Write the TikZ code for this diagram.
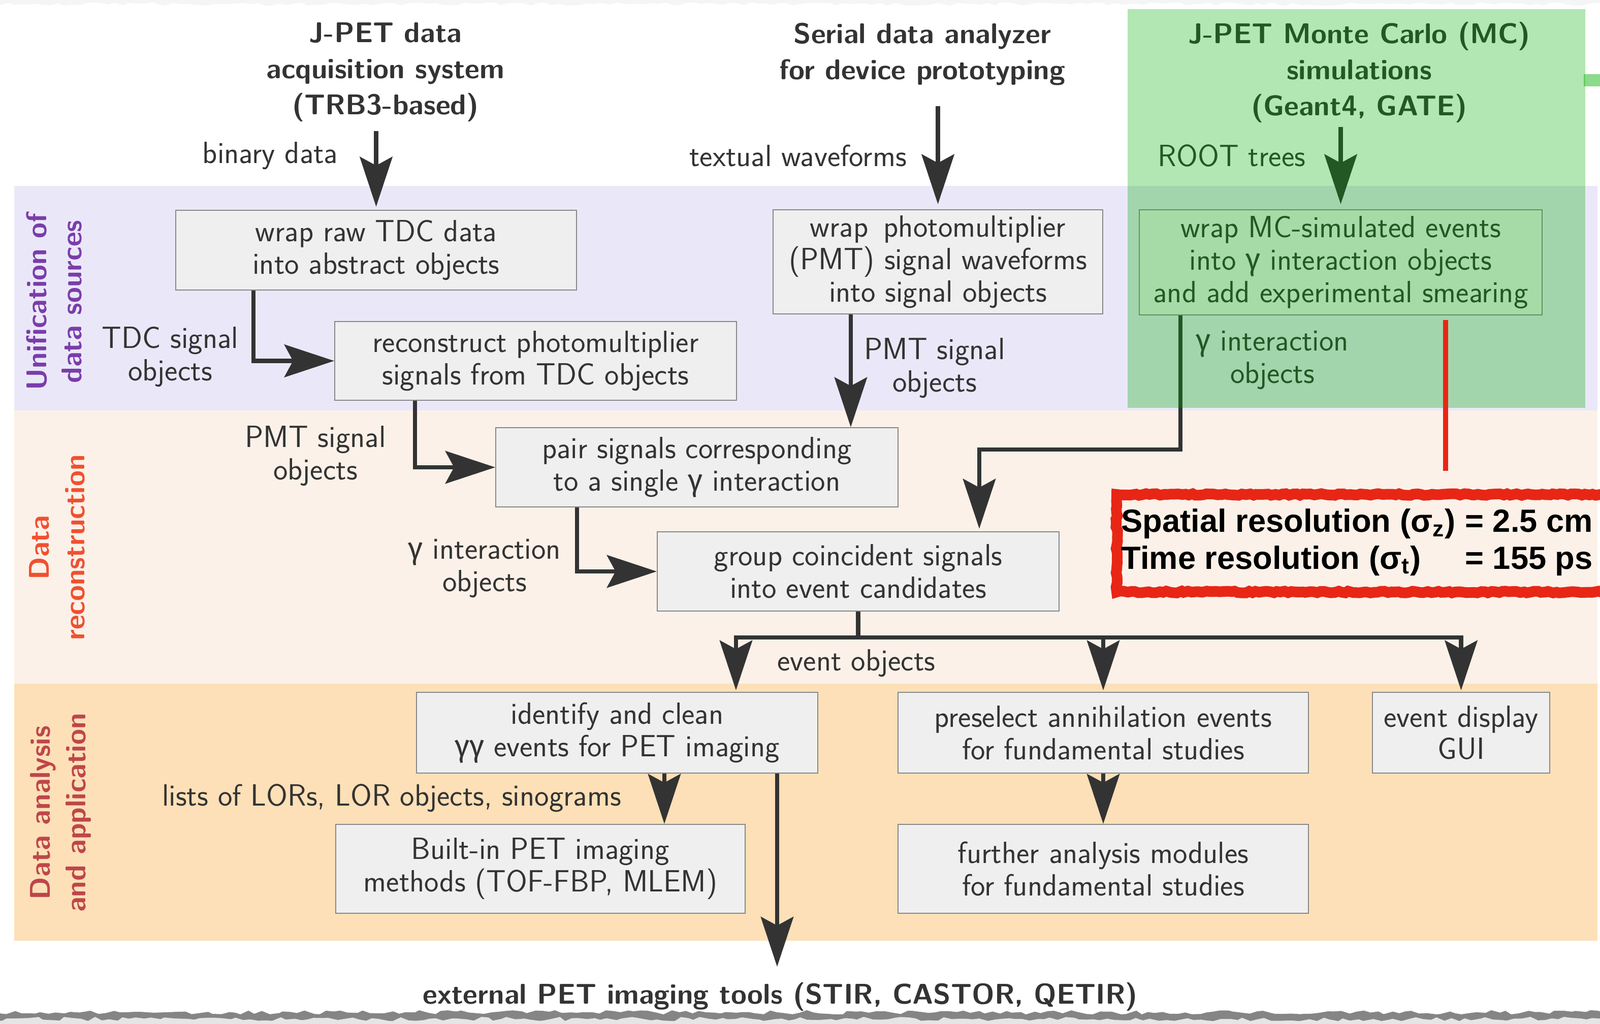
\documentclass[tikz,border=0pt]{standalone}
\usepackage{fontspec}
\usepackage{tikz}
\usetikzlibrary{calc,arrows.meta,decorations.pathmorphing}
\renewcommand{\familydefault}{\sfdefault}
\newfontfamily\grkfont{Fira Sans}
\newfontfamily\arialfont{Liberation Sans}
\newcommand{\gam}{{\grkfont γ}}

\definecolor{bandBlue}{RGB}{234,232,248}
\definecolor{bandPeach}{RGB}{251,241,232}
\definecolor{bandOrange}{RGB}{253,224,183}
\definecolor{boxFill}{RGB}{239,239,239}
\definecolor{boxBorder}{RGB}{135,135,135}
\definecolor{txt}{RGB}{51,51,51}
\definecolor{mcGreen}{RGB}{0,172,0}
\definecolor{redMark}{RGB}{232,38,22}
\definecolor{sideViolet}{RGB}{122,61,170}
\definecolor{sideRed}{RGB}{240,80,48}
\definecolor{sideRose}{RGB}{190,70,75}

\tikzset{
	box/.style={draw=boxBorder, fill=boxFill, line width=0.6pt, text=txt, align=center, inner sep=0pt, font=\fontsize{17.2}{18.2}\selectfont},
	lbl/.style={text=txt, align=center, inner sep=0pt, font=\fontsize{17.2}{18.2}\selectfont},
	head/.style={text=txt, align=center, inner sep=0pt, font=\fontsize{16}{20.2}\selectfont\bfseries},
	side/.style={rotate=90, align=center, inner sep=0pt, font=\fontsize{16}{19.9}\selectfont\bfseries},
	arr/.style={draw=txt, line width=2.5pt, -{Stealth[length=0.98cm, width=0.64cm, inset=0.17cm]}},
	rough/.style={decorate, decoration={random steps, segment length=2pt, amplitude=0.5pt}},
}

\begin{document}
\begin{tikzpicture}
		%%%%% START %%%%%
		\useasboundingbox (0, 0) rectangle (31.5, -20.16);
		\clip (0, 0) rectangle (31.5, -20.16);
		
		\fill[black!4, decorate, decoration={random steps, segment length=4pt, amplitude=1pt}] (-0.3, 0.3) -- (31.8, 0.3) -- (31.8, -0.08) -- (-0.3, -0.08) -- cycle;
		\fill[black!10] (-0.3, -20.02) rectangle (31.8, -20.4);
		\fill[black!48, decorate, decoration={random steps, segment length=4pt, amplitude=1.2pt}] (-0.3, -19.93) -- (31.8, -19.93) -- (31.8, -20.06) -- (-0.3, -20.06) -- cycle;
		
		\fill[bandBlue] (0.28, -3.66) rectangle (31.45, -8.08);
		\fill[bandPeach] (0.28, -8.08) rectangle (31.45, -13.46);
		\fill[bandOrange] (0.28, -13.46) rectangle (31.45, -18.52);
		
		\node[side, text=sideViolet] (unifLbl) at (1.065, -5.94) {Unification of\\data sources};
		\node[side, text=sideRed] (recoLbl) at (1.12, -10.78) {Data\\reconstruction};
		\node[side, text=sideRose] (anaLbl) at (1.19, -16.0) {Data analysis\\and application};
		
		\node[head] (daqTitle) at (7.59, -1.42) {J-PET data\\acquisition system\\(TRB3-based)};
		\node[head] (serialTitle) at (18.16, -1.07) {Serial data analyzer\\for device prototyping};
		\node[head] (mcTitle) at (26.76, -1.42) {J-PET Monte Carlo (MC)\\simulations\\(Geant4, GATE)};
		
		\node[lbl] (binLbl) at (5.32, -3.07) {binary data};
		\node[lbl] (txtLbl) at (15.71, -3.07) {textual waveforms};
		\node[lbl] (rootLbl) at (24.25, -3.07) {ROOT trees};
		\node[lbl] (tdcLbl) at (3.35, -7.03) {TDC signal\\objects};
		\node[lbl] (pmtLblA) at (6.21, -8.98) {PMT signal\\objects};
		\node[lbl] (pmtLblB) at (18.40, -7.25) {PMT signal\\objects};
		\node[lbl] (gamLblA) at (9.54, -11.19) {\gam{} interaction\\objects};
		\node[lbl] (gamLblB) at (25.05, -7.09) {\gam{} interaction\\objects};
		\node[lbl] (evLbl) at (16.86, -13.06) {event objects};
		\node[lbl] (lorLbl) at (7.71, -15.71) {lists of LORs, LOR objects, sinograms};
		\node[head] (extTools) at (15.36, -19.62) {external PET imaging tools (STIR, CASTOR, QETIR)};
		
		\node[box, minimum width=7.89cm, minimum height=1.57cm] (wrapTDC) at (7.405, -4.925) {wrap raw TDC data\\into abstract objects};
		\node[box, minimum width=6.49cm, minimum height=2.05cm] (wrapPMT) at (18.465, -5.155) {wrap\enspace photomultiplier\\(PMT) signal waveforms\\into signal objects};
		\node[box, minimum width=7.93cm, minimum height=2.07cm] (wrapMC) at (26.395, -5.165) {wrap MC-simulated events\\into \gam{} interaction objects\\and add experimental smearing};
		\node[box, minimum width=7.91cm, minimum height=1.55cm] (recoPMT) at (10.545, -7.105) {reconstruct photomultiplier\\signals from TDC objects};
		\node[box, minimum width=7.92cm, minimum height=1.56cm] (pairSig) at (13.72, -9.20) {pair signals corresponding\\to a single \gam{} interaction};
		\node[box, minimum width=7.91cm, minimum height=1.56cm] (group) at (16.895, -11.25) {group coincident signals\\into event candidates};
		\node[box, minimum width=7.90cm, minimum height=1.59cm] (identify) at (12.15, -14.425) {identify and clean\\\gam\gam{} events for PET imaging};
		\node[box, minimum width=8.08cm, minimum height=1.59cm] (preselect) at (21.72, -14.425) {preselect annihilation events\\for fundamental studies};
		\node[box, minimum width=3.49cm, minimum height=1.59cm] (showGUI) at (28.765, -14.425) {event display\\GUI};
		\node[box, minimum width=8.06cm, minimum height=1.75cm] (builtIn) at (10.64, -17.105) {Built-in PET imaging\\methods (TOF-FBP, MLEM)};
		\node[box, minimum width=8.08cm, minimum height=1.75cm] (furtherMod) at (21.72, -17.105) {further analysis modules\\for fundamental studies};
		
		\draw[arr, shorten <=0.18cm, shorten >=0.06cm] (daqTitle.south -| wrapTDC.north) -- (wrapTDC.north);
		\draw[arr, shorten <=0.4cm, shorten >=0.1cm] (serialTitle.south -| wrapPMT.north) -- (wrapPMT.north);
		\draw[arr, shorten <=0.08cm, shorten >=0.1cm] (mcTitle.south -| wrapMC.north) -- (wrapMC.north);
		
		\draw[arr] ($(wrapTDC.south west)+(1.54, 0)$) |- (recoPMT.west);
		\draw[arr] ($(recoPMT.south west)+(1.59, 0)$) |- (pairSig.west);
		\draw[arr] ($(pairSig.south west)+(1.61, 0)$) |- (group.west);
		
		\coordinate (pmtOut) at ($(wrapPMT.south west)+(1.54, 0)$);
		\draw[arr] (pmtOut) -- (pmtOut |- pairSig.north);
		\coordinate (mcOut) at ($(wrapMC.south west)+(0.82, 0)$);
		\coordinate (mcIn) at ($(group.north west)+(6.35, 0)$);
		\draw[arr, shorten >=0.05cm] (mcOut) |- ($(mcIn)+(0, 1.61)$) -- (mcIn);
		
		\coordinate (evBus) at ($(group.south)+(0, -0.51)$);
		\coordinate (idIn) at ($(identify.north west)+(6.30, 0)$);
		\draw[arr, shorten >=0.03cm] (group.south) -- (evBus) -| (idIn);
		\draw[arr, shorten >=0.03cm] (evBus) -| (showGUI.north);
		\draw[arr, shorten >=0.03cm] (evBus -| preselect.north) -- (preselect.north);
		
		\coordinate (lorOut) at ($(identify.south west)+(4.89, 0)$);
		\draw[arr] (lorOut) -- (lorOut |- builtIn.north);
		\coordinate (extOut) at ($(identify.south west)+(7.11, 0)$);
		\draw[arr, shorten >=0.3cm] (extOut) -- (extOut |- extTools.north);
		\draw[arr] (preselect.south) -- (furtherMod.north);
		
		% MC overlay
		\fill[mcGreen, fill opacity=0.3] (22.20, -0.18) rectangle (31.21, -8.03);
		\fill[mcGreen, fill opacity=0.45] (31.18, -1.46) rectangle (31.6, -1.70);
		
		% resolution note
		\node[draw=redMark, line width=0.21cm, rough, minimum width=10cm, minimum height=1.92cm, anchor=north west] (resolFrame) at (21.88, -9.63) {};
		\coordinate (smearOut) at ($(wrapMC.south west)+(6.04, -0.09)$);
		\coordinate (noteIn) at ($(smearOut |- resolFrame.north)+(0, 0.36)$);
		\draw[redMark, line width=0.1cm] (smearOut) -- (noteIn);
		\node[anchor=base west, inner sep=0pt, font=\arialfont\bfseries\fontsize{18}{20.8}\selectfont] (resolText) at (22.07, -10.47) {\begin{tabular}[t]{@{}l@{\hspace{0.3em}}l@{}}Spatial resolution (σ\textsubscript{z}) & = 2.5 cm\\Time resolution (σ\textsubscript{t}) & = 155 ps\end{tabular}};
		
		%%%%% END %%%%%
	\end{tikzpicture}
\end{document}
